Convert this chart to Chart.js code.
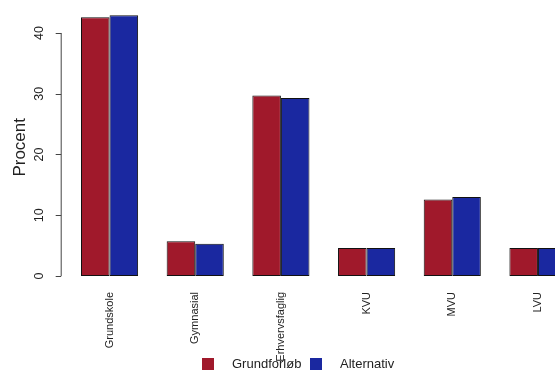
<!DOCTYPE html>
<html>
<head>
<meta charset="utf-8">
<script src="https://cdn.jsdelivr.net/npm/chart.js@4/dist/chart.umd.min.js"></script>
<style>
  html, body { margin: 0; padding: 0; background: #fff; }
  #wrap { width: 555px; height: 372px; overflow: hidden; position: relative; }
  canvas { display: block; }
</style>
</head>
<body>
<div id="wrap"><canvas id="chart-udd" width="600" height="372"></canvas></div>
<script>
// uddannelsesniveau, procent
const categories = ['Grundskole', 'Gymnasial', 'Erhvervsfaglig', 'KVU', 'MVU', 'LVU'];
const grundforlob = [42.6, 5.7, 29.7, 4.6, 12.6, 4.6];
const alternativ = [42.9, 5.3, 29.3, 4.6, 13.0, 4.6];
const yTicks = [0, 10, 20, 30, 40];
const yTitle = 'Procent';

const RED = '#A0192B';
const BLUE = '#1A28A0';
const FONT = '"Liberation Sans", Arial, sans-serif';

// R-agtig y-akse: linje kun fra 0 til 40, roterede tal
const rAxis = {
  id: 'rAxis',
  afterDraw: (chart) => {
    const ctx = chart.ctx;
    const y = chart.scales.y;
    const ax = chart.chartArea.left - 6;
    ctx.save();
    ctx.strokeStyle = '#444';
    ctx.lineWidth = 1;
    ctx.beginPath();
    ctx.moveTo(ax + 0.5, y.getPixelForValue(yTicks[0]));
    ctx.lineTo(ax + 0.5, y.getPixelForValue(yTicks[yTicks.length - 1]));
    yTicks.forEach((t) => {
      const py = Math.round(y.getPixelForValue(t)) + 0.5;
      ctx.moveTo(ax - 5, py);
      ctx.lineTo(ax + 0.5, py);
    });
    ctx.stroke();

    ctx.fillStyle = '#222';
    ctx.textAlign = 'center';
    ctx.textBaseline = 'middle';
    ctx.font = '12.5px ' + FONT;
    yTicks.forEach((t) => {
      ctx.save();
      ctx.translate(ax - 21, y.getPixelForValue(t));
      ctx.rotate(-Math.PI / 2);
      ctx.fillText(String(t), 0, 0);
      ctx.restore();
    });

    ctx.font = '17px ' + FONT;
    ctx.save();
    ctx.translate(20, (chart.chartArea.top + chart.chartArea.bottom) / 2 + 8);
    ctx.rotate(-Math.PI / 2);
    ctx.fillText(yTitle, 0, 0);
    ctx.restore();
    ctx.restore();
  },
};

// legende nederst, som i R
const rLegend = {
  id: 'rLegend',
  afterDraw: (chart) => {
    const ctx = chart.ctx;
    const ds = chart.data.datasets;
    const pos = [202, 310];
    ctx.save();
    ctx.font = '13px ' + FONT;
    ctx.textBaseline = 'middle';
    ctx.textAlign = 'left';
    ds.forEach((d, i) => {
      ctx.fillStyle = d.backgroundColor;
      ctx.fillRect(pos[i], 358, 12, 12);
      ctx.fillStyle = '#222';
      ctx.fillText(d.label, pos[i] + 30, 364);
    });
    ctx.restore();
  },
};

new Chart(document.getElementById('chart-udd'), {
  type: 'bar',
  data: {
    labels: categories,
    datasets: [
      { label: 'Grundforløb', data: grundforlob, backgroundColor: RED, borderColor: '#111', borderWidth: 1, borderSkipped: false },
      { label: 'Alternativ', data: alternativ, backgroundColor: BLUE, borderColor: '#111', borderWidth: 1, borderSkipped: false },
    ],
  },
  options: {
    responsive: false,
    animation: false,
    devicePixelRatio: 1,
    layout: { padding: { left: 66.7, right: 19.2, top: 2.6, bottom: 0 } },
    datasets: { bar: { categoryPercentage: 2 / 3, barPercentage: 1 } },
    scales: {
      x: {
        grid: { display: false, drawTicks: false },
        border: { display: false },
        ticks: {
          minRotation: 90,
          maxRotation: 90,
          padding: 16,
          color: '#222',
          font: { family: FONT, size: 11 },
        },
        afterFit: (scale) => { scale.height = 96; },
      },
      y: {
        display: false,
        min: 0,
        max: 45,
      },
    },
    plugins: {
      legend: { display: false },
      tooltip: { enabled: false },
    },
  },
  plugins: [rAxis, rLegend],
});
</script>
</body>
</html>
